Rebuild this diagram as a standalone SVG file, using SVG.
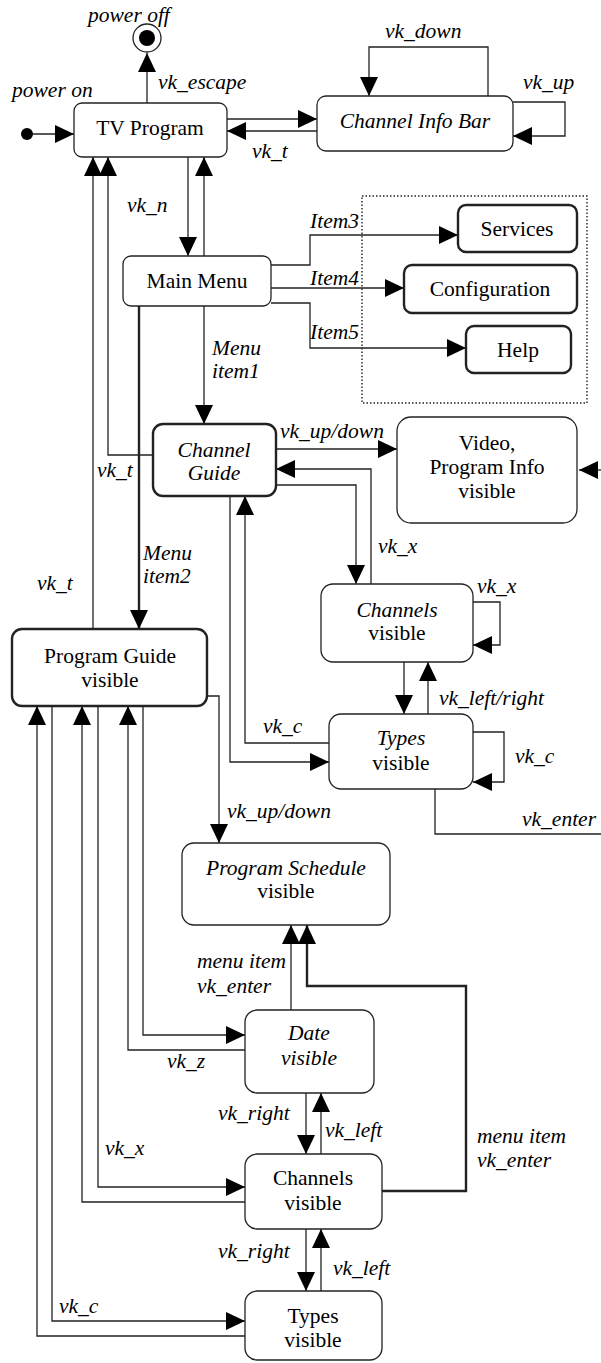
<svg xmlns="http://www.w3.org/2000/svg" width="601" height="1363" viewBox="0 0 601 1363">
  <style>
    .node { fill: #fff; stroke: #222; stroke-width: 1.3; }
    .bold { stroke-width: 2.4; }
    .t { font-family: "Liberation Serif", "Times New Roman", serif; font-size: 21.5px; fill: #000; }
    .c { text-anchor: middle; }
    .i { font-style: italic; }
    .edge { fill: none; stroke: #222; stroke-width: 1.3; marker-end: url(#arr); }
    .plain { fill: none; stroke: #222; stroke-width: 1.3; }
    .thick { stroke-width: 2.4; }
    .frame { fill: none; stroke: #222; stroke-width: 1.4; stroke-dasharray: 1.5 2; }
  </style>
  <defs>
    <marker id="arr" markerUnits="userSpaceOnUse" markerWidth="20" markerHeight="20" refX="19" refY="9" orient="auto">
      <path d="M0,0 L19,9 L0,18 z" fill="#000"/>
    </marker>
  </defs>

  <!-- dotted grouping frame around the sub-menus -->
  <rect class="frame" x="362" y="196" width="225" height="207"/>

  <g id="connectors">
    <path class="edge" d="M33,134 H74"/>
    <path class="edge" d="M147,103 V53"/>
    <path class="edge" d="M227,119 H317"/>
    <path class="edge" d="M317,131 H227"/>
    <path class="edge" d="M488,96 V47 H369 V96"/>
    <path class="edge" d="M513,102 H565 V136 H513"/>
    <path class="edge" d="M188,157 V256"/>
    <path class="edge" d="M204,256 V157"/>
    <path class="edge" d="M271,265 H310 V235 H458"/>
    <path class="edge" d="M271,288 H404"/>
    <path class="edge" d="M271,303 H310 V348 H466"/>
    <path class="edge" d="M204,306 V424"/>
    <path class="edge thick" d="M139,306 V629"/>
    <path class="edge" d="M153,455 H108 V157"/>
    <path class="edge" d="M93,629 V157"/>
    <path class="edge" d="M276,449 H397"/>
    <path class="edge" d="M371,584 V469 H276"/>
    <path class="edge" d="M276,485 H356 V584"/>
    <path class="edge" d="M473,602 H500 V645 H473"/>
    <path class="edge" d="M404,662 V714"/>
    <path class="edge" d="M428,714 V662"/>
    <path class="edge" d="M473,732 H504 V782 H473"/>
    <path class="edge" d="M329,743 H245 V496"/>
    <path class="edge" d="M230,496 V762 H329"/>
    <path class="plain" d="M435,789 V834 H601"/>
    <path class="edge" d="M601,470 H579"/>
    <path class="edge" d="M207,696 H219 V843"/>
    <path class="edge" d="M143,706 V1035 H245"/>
    <path class="edge" d="M245,1050 H128 V706"/>
    <path class="edge" d="M98,706 V1187 H245"/>
    <path class="edge" d="M245,1202 H82 V706"/>
    <path class="edge" d="M52,706 V1321 H245"/>
    <path class="edge" d="M245,1336 H37 V706"/>
    <path class="edge" d="M291,1010 V925"/>
    <path class="edge thick" d="M382,1191 H466 V986 H307 V925"/>
    <path class="edge" d="M306,1093 V1154"/>
    <path class="edge" d="M321,1154 V1093"/>
    <path class="edge" d="M306,1229 V1291"/>
    <path class="edge" d="M321,1291 V1229"/>
  </g>

  <g id="connector-labels" class="t i">
    <text x="88" y="22">power off</text>
    <text x="12" y="97">power on</text>
    <text x="158" y="89">vk_escape</text>
    <text x="385" y="38">vk_down</text>
    <text x="523" y="89">vk_up</text>
    <text x="252" y="158">vk_t</text>
    <text x="127" y="212">vk_n</text>
    <text x="310" y="228">Item3</text>
    <text x="310" y="285">Item4</text>
    <text x="310" y="339">Item5</text>
    <text x="212" y="355">Menu</text>
    <text x="212" y="378">item1</text>
    <text x="280" y="438">vk_up/down</text>
    <text x="97" y="477">vk_t</text>
    <text x="143" y="560">Menu</text>
    <text x="143" y="583">item2</text>
    <text x="37" y="590">vk_t</text>
    <text x="378" y="553">vk_x</text>
    <text x="477" y="593">vk_x</text>
    <text x="439" y="705">vk_left/right</text>
    <text x="263" y="733">vk_c</text>
    <text x="515" y="763">vk_c</text>
    <text x="522" y="826">vk_enter</text>
    <text x="227" y="818">vk_up/down</text>
    <text x="197" y="968">menu item</text>
    <text x="197" y="993">vk_enter</text>
    <text x="167" y="1068">vk_z</text>
    <text x="218" y="1120">vk_right</text>
    <text x="325" y="1137">vk_left</text>
    <text x="477" y="1143">menu item</text>
    <text x="477" y="1167">vk_enter</text>
    <text x="105" y="1155">vk_x</text>
    <text x="218" y="1258">vk_right</text>
    <text x="333" y="1275">vk_left</text>
    <text x="59" y="1313">vk_c</text>
  </g>

  <g id="start">
    <circle cx="27" cy="134" r="6" fill="#000"/>
  </g>
  <g id="end">
    <circle cx="147" cy="38" r="14" fill="#fff" stroke="#222" stroke-width="1.3"/>
    <circle cx="147" cy="38" r="8" fill="#000"/>
  </g>

  <g id="tv-program">
    <rect class="node" x="74" y="103" width="153" height="54" rx="8"/>
    <text class="t c" x="150" y="135">TV Program</text>
  </g>
  <g id="channel-info-bar">
    <rect class="node" x="317" y="96" width="196" height="55" rx="9"/>
    <text class="t c i" x="415" y="128">Channel Info Bar</text>
  </g>
  <g id="main-menu">
    <rect class="node" x="123" y="256" width="148" height="50" rx="8"/>
    <text class="t c" x="197" y="288">Main Menu</text>
  </g>
  <g id="services">
    <rect class="node bold" x="458" y="205" width="119" height="47" rx="8"/>
    <text class="t c" x="517" y="236">Services</text>
  </g>
  <g id="configuration">
    <rect class="node bold" x="404" y="265" width="173" height="48" rx="8"/>
    <text class="t c" x="490" y="296">Configuration</text>
  </g>
  <g id="help">
    <rect class="node bold" x="466" y="326" width="105" height="47" rx="8"/>
    <text class="t c" x="518" y="357">Help</text>
  </g>
  <g id="channel-guide">
    <rect class="node bold" x="153" y="424" width="123" height="72" rx="10"/>
    <text class="t c i" x="214" y="457">Channel</text>
    <text class="t c i" x="214" y="480">Guide</text>
  </g>
  <g id="video-info">
    <rect class="node" x="397" y="417" width="180" height="106" rx="14"/>
    <text class="t c" x="487" y="450">Video,</text>
    <text class="t c" x="487" y="474">Program Info</text>
    <text class="t c" x="487" y="498">visible</text>
  </g>
  <g id="channels-top">
    <rect class="node" x="321" y="584" width="152" height="78" rx="12"/>
    <text class="t c i" x="397" y="617">Channels</text>
    <text class="t c" x="397" y="640">visible</text>
  </g>
  <g id="types-top">
    <rect class="node" x="329" y="714" width="144" height="75" rx="12"/>
    <text class="t c i" x="401" y="745">Types</text>
    <text class="t c" x="401" y="770">visible</text>
  </g>
  <g id="program-guide">
    <rect class="node bold" x="12" y="629" width="195" height="77" rx="10"/>
    <text class="t c" x="110" y="663">Program Guide</text>
    <text class="t c" x="110" y="687">visible</text>
  </g>
  <g id="program-schedule">
    <rect class="node" x="182" y="843" width="208" height="82" rx="12"/>
    <text class="t c i" x="286" y="875">Program Schedule</text>
    <text class="t c" x="286" y="898">visible</text>
  </g>
  <g id="date">
    <rect class="node" x="245" y="1010" width="129" height="83" rx="12"/>
    <text class="t c i" x="309" y="1040">Date</text>
    <text class="t c i" x="309" y="1065">visible</text>
  </g>
  <g id="channels-bottom">
    <rect class="node" x="245" y="1154" width="137" height="75" rx="12"/>
    <text class="t c" x="313" y="1185">Channels</text>
    <text class="t c" x="313" y="1210">visible</text>
  </g>
  <g id="types-bottom">
    <rect class="node" x="245" y="1291" width="137" height="69" rx="12"/>
    <text class="t c" x="313" y="1323">Types</text>
    <text class="t c" x="313" y="1347">visible</text>
  </g>
</svg>
